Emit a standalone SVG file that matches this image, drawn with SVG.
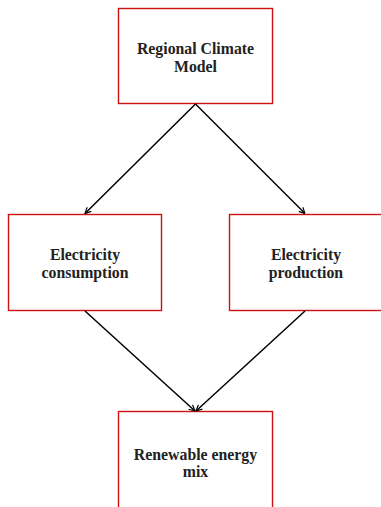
<svg xmlns="http://www.w3.org/2000/svg" width="381" height="507" viewBox="0 0 381 507">
<style>
.box{fill:#fff;stroke:#cc1111;stroke-width:1.4}
.lbl{font-family:"Liberation Serif","Times New Roman",serif;font-weight:bold;font-size:15.8px;fill:#222;text-anchor:middle}
.edge{stroke:#000;stroke-width:1.5;fill:none;marker-end:url(#arr)}
</style>
<defs>
<marker id="arr" viewBox="0 0 10 10" refX="9.5" refY="5" markerWidth="7" markerHeight="7" orient="auto" markerUnits="userSpaceOnUse">
<path d="M1,0.8 L9.5,5 L1,9.2" fill="none" stroke="#000" stroke-width="1.6"/>
</marker>
</defs>
<rect width="381" height="507" fill="#fff"/>
<g id="rcm">
<rect class="box" x="118.5" y="8.5" width="154" height="95"/>
<text class="lbl" x="195.5" y="54">Regional Climate</text>
<text class="lbl" x="195.5" y="72">Model</text>
</g>
<g id="consumption">
<rect class="box" x="8.5" y="214.5" width="153" height="96"/>
<text class="lbl" x="85" y="260">Electricity</text>
<text class="lbl" x="85" y="278">consumption</text>
</g>
<g id="production">
<rect class="box" x="229.5" y="214.5" width="154" height="96"/>
<text class="lbl" x="306" y="260">Electricity</text>
<text class="lbl" x="306" y="278">production</text>
</g>
<g id="mix">
<rect class="box" x="118.5" y="411.5" width="154" height="100"/>
<text class="lbl" x="195.5" y="460">Renewable energy</text>
<text class="lbl" x="195.5" y="477">mix</text>
</g>
<g id="connectors">
<line class="edge" x1="195.5" y1="104" x2="85" y2="213.5"/>
<line class="edge" x1="195.5" y1="104" x2="305" y2="213.5"/>
<line class="edge" x1="85" y1="311" x2="195" y2="411"/>
<line class="edge" x1="305" y1="311" x2="196" y2="411"/>
</g>
</svg>
